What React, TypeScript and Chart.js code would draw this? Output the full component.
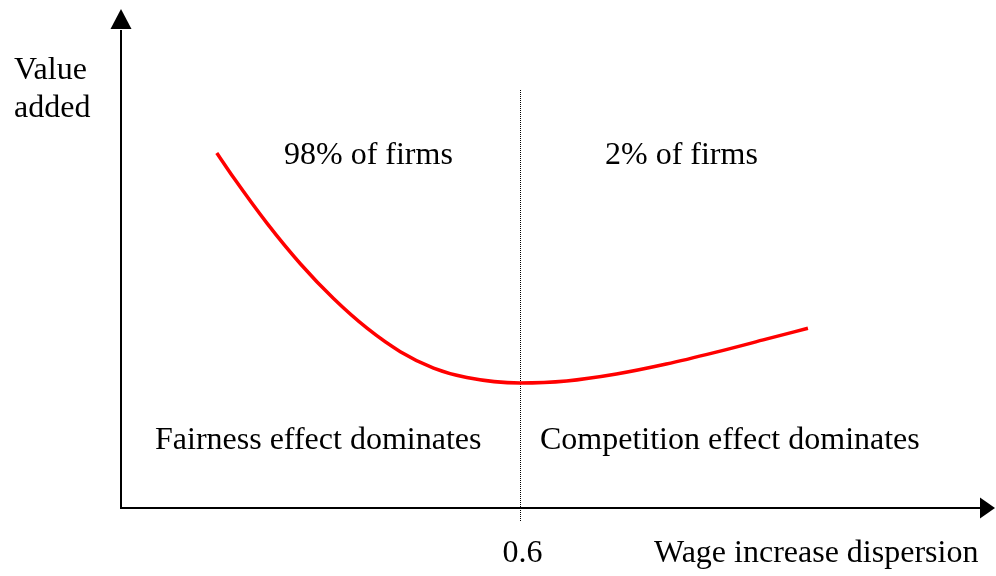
import React, { useEffect, useRef } from "react";
import { Chart, registerables } from "chart.js";

Chart.register(...registerables);

// Wage increase dispersion (x) vs value added (y, arbitrary units)
const dispersion = [0.144, 0.17, 0.22, 0.27, 0.32, 0.37, 0.42, 0.47, 0.52, 0.6, 0.67, 0.745, 0.82, 0.895, 0.97, 1.033];
const valueAdded = [7.13, 6.62, 5.71, 4.9, 4.2, 3.61, 3.14, 2.81, 2.62, 2.51, 2.55, 2.69, 2.89, 3.13, 3.39, 3.61];

const threshold = 0.6;
const thresholdLabel = "0.6";
const xAxisTitle = "Wage increase dispersion";
const yAxisTitle = ["Value", "added"];
const leftShare = "98% of firms";
const rightShare = "2% of firms";
const leftRegime = "Fairness effect dominates";
const rightRegime = "Competition effect dominates";

const X_MAX = 1.3143;
const Y_MAX = 10;

const FONT = '32px "Liberation Serif", "Times New Roman", serif';

const overlay = {
  id: "overlay",
  beforeDatasetsDraw(chart: any) {
    const { ctx, scales } = chart;
    const xs = scales.x;
    const ys = scales.y;
    const x0 = xs.getPixelForValue(0);
    const y0 = ys.getPixelForValue(0);
    const xEnd = xs.getPixelForValue(X_MAX);
    const yTop = ys.getPixelForValue(Y_MAX);
    ctx.save();
    // dotted threshold line
    const xt = Math.round(xs.getPixelForValue(threshold)) + 0.5;
    ctx.strokeStyle = "#000";
    ctx.lineWidth = 1;
    ctx.setLineDash([1, 1]);
    ctx.beginPath();
    ctx.moveTo(xt, Math.round(ys.getPixelForValue(8.4)));
    ctx.lineTo(xt, Math.round(y0 + 13));
    ctx.stroke();
    ctx.setLineDash([]);
    // axes
    ctx.lineWidth = 2;
    ctx.beginPath();
    ctx.moveTo(x0, y0);
    ctx.lineTo(xEnd - 14, y0);
    ctx.moveTo(x0, y0 + 1);
    ctx.lineTo(x0, yTop + 20);
    ctx.stroke();
    ctx.fillStyle = "#000";
    ctx.beginPath();
    ctx.moveTo(xEnd, y0);
    ctx.lineTo(xEnd - 15, y0 - 10.5);
    ctx.lineTo(xEnd - 15, y0 + 10.5);
    ctx.closePath();
    ctx.fill();
    ctx.beginPath();
    ctx.moveTo(x0, yTop - 1);
    ctx.lineTo(x0 - 10.5, yTop + 19);
    ctx.lineTo(x0 + 10.5, yTop + 19);
    ctx.closePath();
    ctx.fill();
    // texts
    ctx.font = FONT;
    ctx.textAlign = "left";
    ctx.textBaseline = "alphabetic";
    ctx.fillText(yAxisTitle[0], 14, 79);
    ctx.fillText(yAxisTitle[1], 14, 117);
    ctx.fillText(leftShare, 284, 164);
    ctx.fillText(rightShare, 605, 164);
    ctx.fillText(leftRegime, 155, 449);
    ctx.fillText(rightRegime, 540, 449);
    ctx.fillText(thresholdLabel, xt - 18, 562);
    ctx.fillText(xAxisTitle, 654, 562);
    ctx.restore();
  },
};

export default function App() {
  const ref = useRef<HTMLCanvasElement>(null);
  useEffect(() => {
    const chart = new Chart(ref.current as HTMLCanvasElement, {
      type: "line",
      data: {
        datasets: [
          {
            data: dispersion.map((x, i) => ({ x, y: valueAdded[i] })),
            borderColor: "#ff0000",
            borderWidth: 3.5,
            pointRadius: 0,
            fill: false,
            cubicInterpolationMode: "monotone",
          },
        ],
      },
      options: {
        animation: false,
        responsive: false,
        devicePixelRatio: 1,
        layout: { padding: { left: 121, right: 1, top: 10, bottom: 68 } },
        plugins: { legend: { display: false }, tooltip: { enabled: false } },
        scales: {
          x: { type: "linear", min: 0, max: X_MAX, display: false },
          y: { type: "linear", min: 0, max: Y_MAX, display: false },
        },
      },
      plugins: [overlay],
    } as any);
    return () => chart.destroy();
  }, []);
  return (
    <div style={{ position: "absolute", left: 0, top: 0, width: 996, height: 576, background: "#fff" }}>
      <canvas ref={ref} width={996} height={576} />
    </div>
  );
}
